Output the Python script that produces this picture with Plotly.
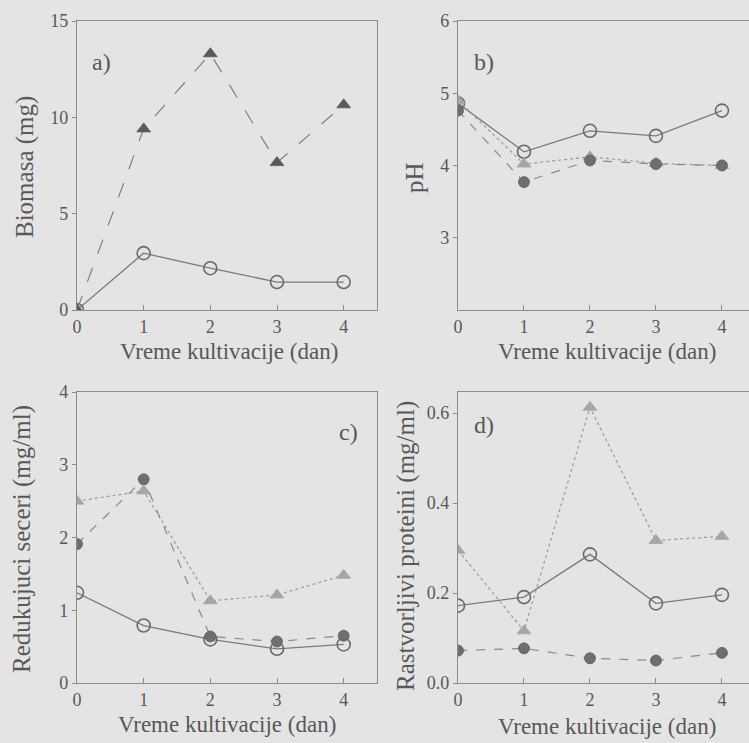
import plotly.graph_objects as go

days = [0, 1, 2, 3, 4]

# a) Biomasa (mg)
bio_circle = [0.0, 2.95, 2.17, 1.45, 1.45]
bio_triangle = [0.0, 9.4, 13.3, 7.65, 10.65]

# b) pH
ph_circle = [4.86, 4.19, 4.48, 4.41, 4.76]
ph_triangle = [4.9, 4.02, 4.12, 4.03, 4.0]
ph_filled = [4.76, 3.77, 4.07, 4.02, 4.0]

# c) Redukujuci seceri (mg/ml)
rs_circle = [1.24, 0.79, 0.6, 0.47, 0.53]
rs_triangle = [2.5, 2.64, 1.13, 1.21, 1.48]
rs_filled = [1.91, 2.8, 0.64, 0.57, 0.65]

# d) Rastvorljivi proteini (mg/ml)
rp_circle = [0.172, 0.191, 0.286, 0.177, 0.196]
rp_triangle = [0.295, 0.116, 0.613, 0.317, 0.326]
rp_filled = [0.072, 0.077, 0.055, 0.05, 0.067]

BG = "#e4e4e4"
TXT = "#585858"
AX = "#8c8c8c"
FONT = "Liberation Serif, Times New Roman, DejaVu Serif, serif"

W, H = 749, 743

def px_x(p):
    return p / W

def px_y(p):
    return 1 - p / H

fig = go.Figure()

def circle_trace(y, xa, ya):
    return go.Scatter(x=days, y=y, xaxis=xa, yaxis=ya, mode="lines+markers",
                      line=dict(color="#7a7a7a", width=1.3, dash="solid"),
                      marker=dict(symbol="circle-open", size=13, color="#6a6a6a",
                                  line=dict(width=1.6, color="#6a6a6a")),
                      showlegend=False)

def tri_trace(y, xa, ya, color, dash, lc):
    return go.Scatter(x=days, y=y, xaxis=xa, yaxis=ya, mode="lines+markers",
                      line=dict(color=lc, width=1.2, dash=dash),
                      marker=dict(symbol="triangle-up", size=12, color=color,
                                  line=dict(width=0.8, color=color)),
                      showlegend=False)

def filled_trace(y, xa, ya):
    return go.Scatter(x=days, y=y, xaxis=xa, yaxis=ya, mode="lines+markers",
                      line=dict(color="#8a8a8a", width=1.2, dash="dash"),
                      marker=dict(symbol="circle", size=11, color="#6e6e6e",
                                  line=dict(width=0.8, color="#5e5e5e")),
                      showlegend=False)

# a
fig.add_trace(circle_trace(bio_circle, "x", "y"))
fig.add_trace(tri_trace(bio_triangle, "x", "y", "#5a5a5a", "longdash", "#808080"))
# b
fig.add_trace(circle_trace(ph_circle, "x2", "y2"))
fig.add_trace(tri_trace(ph_triangle, "x2", "y2", "#a6a6a6", "dot", "#9a9a9a"))
fig.add_trace(filled_trace(ph_filled, "x2", "y2"))
# c
fig.add_trace(circle_trace(rs_circle, "x3", "y3"))
fig.add_trace(tri_trace(rs_triangle, "x3", "y3", "#a6a6a6", "dot", "#9a9a9a"))
fig.add_trace(filled_trace(rs_filled, "x3", "y3"))
# d
fig.add_trace(circle_trace(rp_circle, "x4", "y4"))
fig.add_trace(tri_trace(rp_triangle, "x4", "y4", "#a6a6a6", "dot", "#9a9a9a"))
fig.add_trace(filled_trace(rp_filled, "x4", "y4"))

tickfont = dict(family=FONT, size=18, color=TXT)

def xaxis(dom, rng, anchor):
    return dict(domain=dom, range=rng, anchor=anchor, tickvals=days,
                showline=True, mirror=True, linecolor=AX, linewidth=1.3,
                ticks="inside", ticklen=5, tickcolor=AX, showgrid=False,
                zeroline=False, tickfont=tickfont, automargin=False)

def yaxis(dom, rng, anchor, tv, tt):
    return dict(domain=dom, range=rng, anchor=anchor, tickvals=tv, ticktext=tt,
                showline=True, mirror=True, linecolor=AX, linewidth=1.3,
                ticks="outside", ticklen=4, tickcolor=AX, showgrid=False,
                zeroline=False, tickfont=tickfont, automargin=False)

left_dom = [px_x(77), px_x(377)]
right_dom = [px_x(458), 1.0]
top_dom = [px_y(310), px_y(21)]
bot_dom = [px_y(683), px_y(392)]

fig.update_layout(
    width=W, height=H,
    margin=dict(l=0, r=0, t=0, b=0, pad=0),
    paper_bgcolor=BG, plot_bgcolor=BG,
    font=dict(family=FONT, color=TXT),
    xaxis=xaxis(left_dom, [0, 4.5], "y"),
    yaxis=yaxis(top_dom, [0, 15], "x", [0, 5, 10, 15], ["0", "5", "10", "15"]),
    xaxis2=xaxis(right_dom, [0, 4.41], "y2"),
    yaxis2=yaxis(top_dom, [2, 6], "x2", [3, 4, 5, 6], ["3", "4", "5", "6"]),
    xaxis3=xaxis(left_dom, [0, 4.5], "y3"),
    yaxis3=yaxis(bot_dom, [0, 4], "x3", [0, 1, 2, 3, 4], ["0", "1", "2", "3", "4"]),
    xaxis4=xaxis(right_dom, [0, 4.41], "y4"),
    yaxis4=yaxis(bot_dom, [0, 0.647], "x4", [0, 0.2, 0.4, 0.6], ["0.0", "0.2", "0.4", "0.6"]),
)

titlefont = dict(family=FONT, size=23, color=TXT)
anns = [
    # x titles
    (229, 351, "Vreme kultivacije (dan)", 0),
    (607, 351, "Vreme kultivacije (dan)", 0),
    (227, 724, "Vreme kultivacije (dan)", 0),
    (607, 726, "Vreme kultivacije (dan)", 0),
    # y titles
    (25, 167, "Biomasa (mg)", -90),
    (414, 178, "pH", -90),
    (22, 539, "Redukujuci seceri (mg/ml)", -90),
    (406, 546, "Rastvorljivi proteini (mg/ml)", -90),
]
for x, y, t, ang in anns:
    f = titlefont if ang == 0 else dict(family=FONT, size=25, color=TXT)
    fig.add_annotation(x=px_x(x), y=px_y(y), xref="paper", yref="paper", text=t,
                       showarrow=False, textangle=ang, font=f,
                       xanchor="center", yanchor="middle")

letters = [(101, 62, "a)"), (484, 62, "b)"), (348, 432, "c)"), (484, 425, "d)")]
for x, y, t in letters:
    fig.add_annotation(x=px_x(x), y=px_y(y), xref="paper", yref="paper", text=t,
                       showarrow=False, font=dict(family=FONT, size=24, color=TXT),
                       xanchor="center", yanchor="middle")

fig.write_html("out.html", config={"displayModeBar": False},
               post_script="document.body.style.margin='0';document.body.style.overflow='hidden';")
